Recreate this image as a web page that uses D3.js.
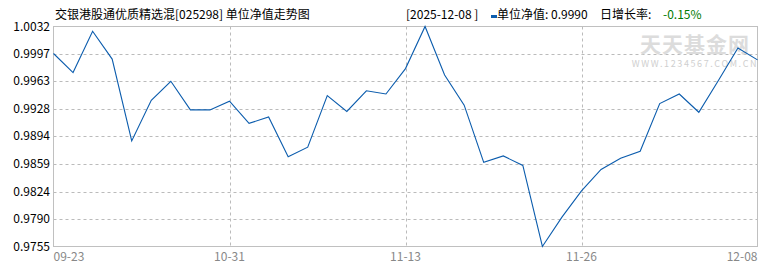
<!DOCTYPE html>
<html>
<head>
<meta charset="utf-8">
<script src="https://cdn.jsdelivr.net/npm/d3@7"></script>
<style>
body { margin: 0; background: #fff; }
svg text { font-family: "Noto Sans CJK SC", "DejaVu Sans", sans-serif; font-size: 12px; }
</style>
</head>
<body>
<svg id="canvas" width="770" height="270"></svg>
<script>
var dates = ['09-23', '09-26', '09-30', '10-10', '10-17', '10-24', '10-28', '10-29', '10-30', '10-31',
    '11-03', '11-04', '11-05', '11-06', '11-07', '11-10', '11-11', '11-12', '11-13',
    '11-14', '11-17', '11-18', '11-19', '11-20', '11-21', '11-24', '11-25', '11-26',
    '11-27', '11-28', '12-01', '12-02', '12-03', '12-04', '12-05', '12-06', '12-08'];
var navs = [0.9998, 0.9974, 1.0026, 0.9991, 0.9888, 0.9939, 0.9963, 0.9927, 0.9927, 0.9938,
    0.9910, 0.9918, 0.9868, 0.9880, 0.9945, 0.9925, 0.9951, 0.9947, 0.9979,
    1.0032, 0.9971, 0.9933, 0.9861, 0.9869, 0.9857, 0.9755, 0.9792, 0.9825,
    0.9852, 0.9866, 0.9875, 0.9935, 0.9947, 0.9924, 0.9964, 1.0005, 0.9990];
var yTicks = [0.9755, 0.9790, 0.9824, 0.9859, 0.9894, 0.9928, 0.9963, 0.9997, 1.0032];
var xTicks = ['09-23', '10-31', '11-13', '11-26', '12-08'];

var canvas = d3.select('#canvas');
var plotLeft = 53.5, plotRight = 757.5, plotTop = 26.5, plotBottom = 246.5;

var x = d3.scalePoint().domain(dates).range([plotLeft, plotRight]);
var y = d3.scaleLinear().domain([yTicks[0], yTicks[yTicks.length - 1]]).range([plotBottom, plotTop]);

// grid lines
canvas.selectAll('.hgrid')
    .data(yTicks.slice(1, -1))
    .enter()
    .append('line')
    .attr('x1', plotLeft).attr('x2', plotRight)
    .attr('y1', function (d) { return Math.round(y(d)) + 0.5; })
    .attr('y2', function (d) { return Math.round(y(d)) + 0.5; })
    .attr('stroke', '#bbb')
    .attr('stroke-dasharray', '3,3');

canvas.selectAll('.vgrid')
    .data(xTicks.slice(1, -1))
    .enter()
    .append('line')
    .attr('x1', function (d) { return Math.round(x(d)) + 0.5; })
    .attr('x2', function (d) { return Math.round(x(d)) + 0.5; })
    .attr('y1', plotTop).attr('y2', plotBottom)
    .attr('stroke', '#bbb')
    .attr('stroke-dasharray', '3,3');

// border
canvas.append('rect')
    .attr('x', plotLeft).attr('y', plotTop)
    .attr('width', plotRight - plotLeft).attr('height', plotBottom - plotTop)
    .attr('fill', 'none')
    .attr('stroke', '#c0c0c0');

// watermark
canvas.append('text')
    .attr('x', 695).attr('y', 52)
    .attr('text-anchor', 'middle')
    .style('font-size', '21px')
    .style('font-weight', 'bold')
    .style('letter-spacing', '1px')
    .attr('fill', '#dcdcdc')
    .text('天天基金网');
canvas.append('text')
    .attr('x', 695).attr('y', 67)
    .attr('text-anchor', 'middle')
    .style('font-size', '9px')
    .style('letter-spacing', '1.6px')
    .attr('fill', '#cfcfcf')
    .text('WWW.1234567.COM.CN');

// line
var line = d3.line()
    .x(function (d, i) { return x(dates[i]); })
    .y(function (d) { return y(d); });

canvas.append('path')
    .datum(navs)
    .attr('d', line)
    .attr('fill', 'none')
    .attr('stroke', '#0b5cad')
    .attr('stroke-width', 1.1);

// y labels
canvas.selectAll('.ylab')
    .data(yTicks)
    .enter()
    .append('text')
    .attr('x', 50)
    .attr('y', function (d) { return y(d) + 4; })
    .attr('text-anchor', 'end')
    .attr('fill', '#000')
    .text(function (d) { return d.toFixed(4); });

// x labels
canvas.selectAll('.xlab')
    .data(xTicks)
    .enter()
    .append('text')
    .attr('x', function (d) { return x(d); })
    .attr('y', 261)
    .attr('text-anchor', function (d, i) {
        return i === 0 ? 'start' : (i === xTicks.length - 1 ? 'end' : 'middle');
    })
    .attr('fill', '#888')
    .text(function (d) { return d; });

// header
canvas.append('text').attr('x', 55).attr('y', 19).attr('fill', '#000')
    .text('交银港股通优质精选混[025298] 单位净值走势图');
canvas.append('text').attr('x', 406).attr('y', 19).attr('fill', '#000')
    .text('[2025-12-08 ]');
canvas.append('rect').attr('x', 491).attr('y', 15).attr('width', 6).attr('height', 3)
    .attr('fill', '#0b5cad');
canvas.append('text').attr('x', 497).attr('y', 19).attr('fill', '#000')
    .text('单位净值: ' + navs[navs.length - 1].toFixed(4));
canvas.append('text').attr('x', 600).attr('y', 19).attr('fill', '#000')
    .text('日增长率:');
canvas.append('text').attr('x', 663).attr('y', 19).attr('fill', '#007a00')
    .text('-0.15%');
</script>
</body>
</html>
